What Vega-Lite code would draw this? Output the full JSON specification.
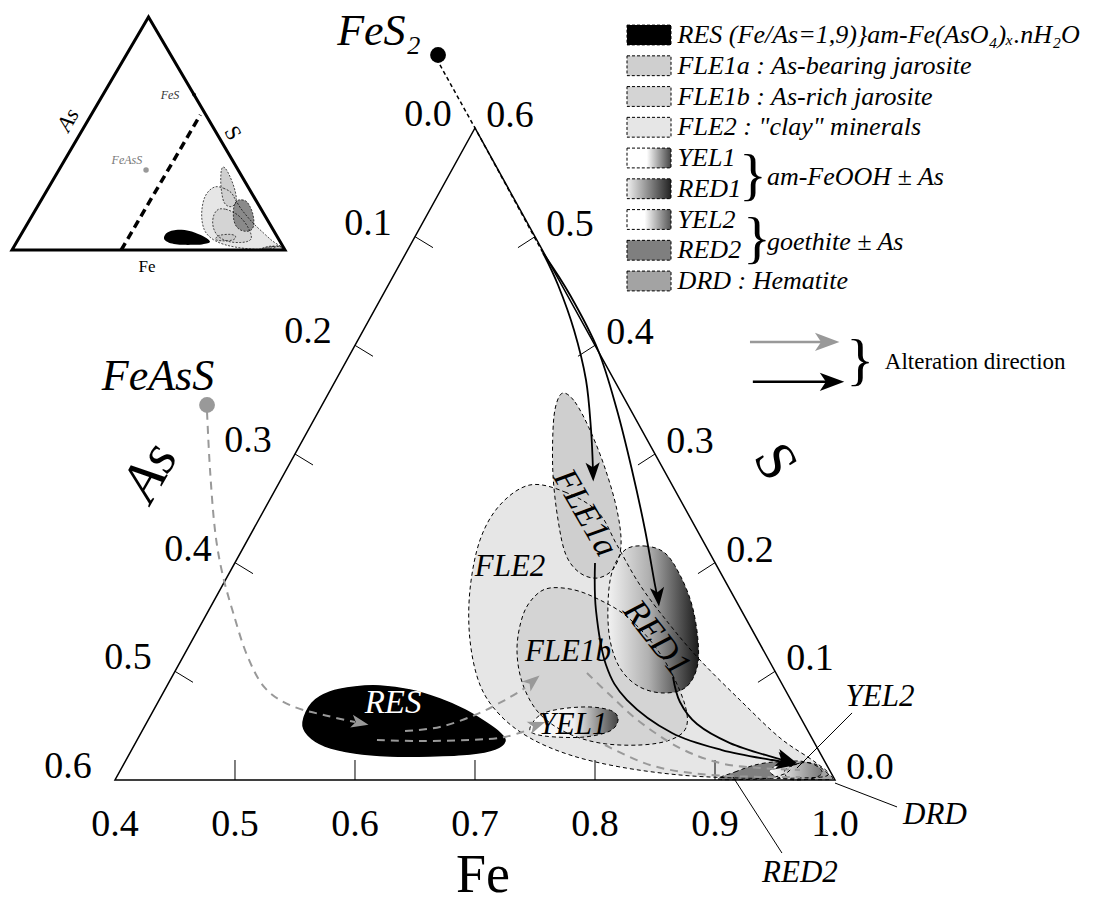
{
"$schema":"https://vega.github.io/schema/vega-lite/v6.json",
"width":1094,"height":904,"autosize":"none","padding":0,"background":"white",
"config":{"view":{"stroke":null},"text":{"font":"Liberation Serif"}},
"datasets":{
"shapes":[
{"s":"FLE2","i":0,"x":0.7458,"y":0.2715},{"s":"FLE2","i":1,"x":0.7750,"y":0.2650},{"s":"FLE2","i":2,"x":0.8025,"y":0.2466},{"s":"FLE2","i":3,"x":0.8183,"y":0.2163},{"s":"FLE2","i":4,"x":0.8375,"y":0.1794},{"s":"FLE2","i":5,"x":0.8625,"y":0.1426},{"s":"FLE2","i":6,"x":0.8875,"y":0.1104},{"s":"FLE2","i":7,"x":0.9208,"y":0.0736},{"s":"FLE2","i":8,"x":0.9542,"y":0.0387},{"s":"FLE2","i":9,"x":0.9833,"y":0.0166},{"s":"FLE2","i":10,"x":0.9942,"y":0.0046},{"s":"FLE2","i":11,"x":0.9708,"y":0.0018},{"s":"FLE2","i":12,"x":0.9208,"y":0.0018},{"s":"FLE2","i":13,"x":0.8708,"y":0.0046},{"s":"FLE2","i":14,"x":0.8208,"y":0.0120},{"s":"FLE2","i":15,"x":0.7792,"y":0.0230},{"s":"FLE2","i":16,"x":0.7458,"y":0.0387},{"s":"FLE2","i":17,"x":0.7208,"y":0.0598},{"s":"FLE2","i":18,"x":0.7042,"y":0.0874},{"s":"FLE2","i":19,"x":0.6958,"y":0.1288},{"s":"FLE2","i":20,"x":0.6958,"y":0.1748},{"s":"FLE2","i":21,"x":0.7042,"y":0.2209},{"s":"FLE2","i":22,"x":0.7208,"y":0.2531},
{"s":"FLE1b","i":0,"x":0.7625,"y":0.1767},{"s":"FLE1b","i":1,"x":0.7833,"y":0.1748},{"s":"FLE1b","i":2,"x":0.8042,"y":0.1656},{"s":"FLE1b","i":3,"x":0.8250,"y":0.1518},{"s":"FLE1b","i":4,"x":0.8458,"y":0.1288},{"s":"FLE1b","i":5,"x":0.8625,"y":0.1012},{"s":"FLE1b","i":6,"x":0.8750,"y":0.0690},{"s":"FLE1b","i":7,"x":0.8758,"y":0.0479},{"s":"FLE1b","i":8,"x":0.8625,"y":0.0368},{"s":"FLE1b","i":9,"x":0.8375,"y":0.0322},{"s":"FLE1b","i":10,"x":0.8042,"y":0.0340},{"s":"FLE1b","i":11,"x":0.7750,"y":0.0442},{"s":"FLE1b","i":12,"x":0.7525,"y":0.0626},{"s":"FLE1b","i":13,"x":0.7392,"y":0.0902},{"s":"FLE1b","i":14,"x":0.7350,"y":0.1215},{"s":"FLE1b","i":15,"x":0.7400,"y":0.1518},{"s":"FLE1b","i":16,"x":0.7500,"y":0.1693},
{"s":"FLE1a","i":0,"x":0.7733,"y":0.3561},{"s":"FLE1a","i":1,"x":0.7833,"y":0.3479},{"s":"FLE1a","i":2,"x":0.7958,"y":0.3221},{"s":"FLE1a","i":3,"x":0.8083,"y":0.2871},{"s":"FLE1a","i":4,"x":0.8183,"y":0.2485},{"s":"FLE1a","i":5,"x":0.8217,"y":0.2163},{"s":"FLE1a","i":6,"x":0.8158,"y":0.1951},{"s":"FLE1a","i":7,"x":0.8025,"y":0.1859},{"s":"FLE1a","i":8,"x":0.7875,"y":0.1905},{"s":"FLE1a","i":9,"x":0.7758,"y":0.2071},{"s":"FLE1a","i":10,"x":0.7692,"y":0.2393},{"s":"FLE1a","i":11,"x":0.7650,"y":0.2807},{"s":"FLE1a","i":12,"x":0.7650,"y":0.3221},{"s":"FLE1a","i":13,"x":0.7675,"y":0.3451},
{"s":"RED1","i":0,"x":0.8250,"y":0.2117},{"s":"RED1","i":1,"x":0.8417,"y":0.2153},{"s":"RED1","i":2,"x":0.8583,"y":0.2089},{"s":"RED1","i":3,"x":0.8708,"y":0.1887},{"s":"RED1","i":4,"x":0.8808,"y":0.1610},{"s":"RED1","i":5,"x":0.8858,"y":0.1288},{"s":"RED1","i":6,"x":0.8850,"y":0.1031},{"s":"RED1","i":7,"x":0.8750,"y":0.0847},{"s":"RED1","i":8,"x":0.8558,"y":0.0801},{"s":"RED1","i":9,"x":0.8358,"y":0.0865},{"s":"RED1","i":10,"x":0.8208,"y":0.1031},{"s":"RED1","i":11,"x":0.8125,"y":0.1288},{"s":"RED1","i":12,"x":0.8108,"y":0.1610},{"s":"RED1","i":13,"x":0.8142,"y":0.1914},
{"s":"YEL1","i":0,"x":0.7458,"y":0.0479},{"s":"YEL1","i":1,"x":0.7542,"y":0.0598},{"s":"YEL1","i":2,"x":0.7708,"y":0.0653},{"s":"YEL1","i":3,"x":0.7958,"y":0.0672},{"s":"YEL1","i":4,"x":0.8142,"y":0.0635},{"s":"YEL1","i":5,"x":0.8192,"y":0.0552},{"s":"YEL1","i":6,"x":0.8125,"y":0.0451},{"s":"YEL1","i":7,"x":0.7917,"y":0.0396},{"s":"YEL1","i":8,"x":0.7667,"y":0.0396},{"s":"YEL1","i":9,"x":0.7500,"y":0.0423},
{"s":"RES","i":0,"x":0.5567,"y":0.0534},{"s":"RES","i":1,"x":0.5642,"y":0.0709},{"s":"RES","i":2,"x":0.5792,"y":0.0810},{"s":"RES","i":3,"x":0.6000,"y":0.0856},{"s":"RES","i":4,"x":0.6208,"y":0.0865},{"s":"RES","i":5,"x":0.6458,"y":0.0828},{"s":"RES","i":6,"x":0.6708,"y":0.0745},{"s":"RES","i":7,"x":0.6917,"y":0.0644},{"s":"RES","i":8,"x":0.7083,"y":0.0534},{"s":"RES","i":9,"x":0.7208,"y":0.0433},{"s":"RES","i":10,"x":0.7250,"y":0.0359},{"s":"RES","i":11,"x":0.7167,"y":0.0285},{"s":"RES","i":12,"x":0.6958,"y":0.0239},{"s":"RES","i":13,"x":0.6625,"y":0.0221},{"s":"RES","i":14,"x":0.6292,"y":0.0221},{"s":"RES","i":15,"x":0.6000,"y":0.0248},{"s":"RES","i":16,"x":0.5750,"y":0.0313},{"s":"RES","i":17,"x":0.5608,"y":0.0414},
{"s":"RED2","i":0,"x":0.9025,"y":0.0009},{"s":"RED2","i":1,"x":0.9167,"y":0.0074},{"s":"RED2","i":2,"x":0.9333,"y":0.0138},{"s":"RED2","i":3,"x":0.9500,"y":0.0166},{"s":"RED2","i":4,"x":0.9625,"y":0.0147},{"s":"RED2","i":5,"x":0.9608,"y":0.0074},{"s":"RED2","i":6,"x":0.9458,"y":0.0018},{"s":"RED2","i":7,"x":0.9250,"y":0.0005},
{"s":"DRD","i":0,"x":0.9583,"y":0.0092},{"s":"DRD","i":1,"x":0.9708,"y":0.0156},{"s":"DRD","i":2,"x":0.9833,"y":0.0147},{"s":"DRD","i":3,"x":0.9925,"y":0.0074},{"s":"DRD","i":4,"x":0.9975,"y":0.0009},{"s":"DRD","i":5,"x":0.9792,"y":0.0005},{"s":"DRD","i":6,"x":0.9625,"y":0.0009},
{"s":"YEL2","i":0,"x":0.9458,"y":0.0074},{"s":"YEL2","i":1,"x":0.9542,"y":0.0147},{"s":"YEL2","i":2,"x":0.9692,"y":0.0175},{"s":"YEL2","i":3,"x":0.9833,"y":0.0138},{"s":"YEL2","i":4,"x":0.9892,"y":0.0064},{"s":"YEL2","i":5,"x":0.9792,"y":0.0009},{"s":"YEL2","i":6,"x":0.9583,"y":0.0009}
],
"frame":[{"i":0,"x":0.7,"y":0},{"i":1,"x":1.0,"y":0},{"i":2,"x":0.7,"y":0.6},{"i":3,"x":0.4,"y":0},{"i":4,"x":0.7,"y":0}],
"ticks":[
{"x":0.5,"y":0,"x2":0.5,"y2":0.0184},{"x":0.6,"y":0,"x2":0.6,"y2":0.0184},{"x":0.7,"y":0,"x2":0.7,"y2":0.0184},{"x":0.8,"y":0,"x2":0.8,"y2":0.0184},{"x":0.9,"y":0,"x2":0.9,"y2":0.0184},
{"x":0.65,"y":0.5,"x2":0.665,"y2":0.4899},{"x":0.6,"y":0.4,"x2":0.615,"y2":0.3899},{"x":0.55,"y":0.3,"x2":0.565,"y2":0.2899},{"x":0.5,"y":0.2,"x2":0.515,"y2":0.1899},{"x":0.45,"y":0.1,"x2":0.465,"y2":0.0899},
{"x":0.95,"y":0.1,"x2":0.9358,"y2":0.0899},{"x":0.9,"y":0.2,"x2":0.8858,"y2":0.1899},{"x":0.85,"y":0.3,"x2":0.8358,"y2":0.2899},{"x":0.8,"y":0.4,"x2":0.7858,"y2":0.3899},{"x":0.75,"y":0.5,"x2":0.7358,"y2":0.4899}
],
"curves":[
{"c":"C1","i":0,"x":0.7567,"y":0.4850},{"c":"C1","i":1,"x":0.7692,"y":0.4555},{"c":"C1","i":2,"x":0.7825,"y":0.4141},{"c":"C1","i":3,"x":0.7925,"y":0.3681},{"c":"C1","i":4,"x":0.7967,"y":0.3221},{"c":"C1","i":5,"x":0.7983,"y":0.2853},
{"c":"C2","i":0,"x":0.7567,"y":0.4850},{"c":"C2","i":1,"x":0.7792,"y":0.4463},{"c":"C2","i":2,"x":0.8025,"y":0.3957},{"c":"C2","i":3,"x":0.8183,"y":0.3405},{"c":"C2","i":4,"x":0.8308,"y":0.2853},{"c":"C2","i":5,"x":0.8417,"y":0.2301},{"c":"C2","i":6,"x":0.8500,"y":0.1794},{"c":"C2","i":7,"x":0.8525,"y":0.1684},
{"c":"C3","i":0,"x":0.8000,"y":0.1997},{"c":"C3","i":1,"x":0.8008,"y":0.1564},{"c":"C3","i":2,"x":0.8092,"y":0.1058},{"c":"C3","i":3,"x":0.8267,"y":0.0736},{"c":"C3","i":4,"x":0.8642,"y":0.0433},{"c":"C3","i":5,"x":0.9058,"y":0.0276},{"c":"C3","i":6,"x":0.9475,"y":0.0184},{"c":"C3","i":7,"x":0.9583,"y":0.0166},
{"c":"C4","i":0,"x":0.8650,"y":0.0948},{"c":"C4","i":1,"x":0.8708,"y":0.0718},{"c":"C4","i":2,"x":0.8850,"y":0.0515},{"c":"C4","i":3,"x":0.9125,"y":0.0340},{"c":"C4","i":4,"x":0.9475,"y":0.0212},{"c":"C4","i":5,"x":0.9583,"y":0.0184},
{"c":"G1","i":0,"x":0.4767,"y":0.3387},{"c":"G1","i":1,"x":0.4792,"y":0.2853},{"c":"G1","i":2,"x":0.4833,"y":0.2301},{"c":"G1","i":3,"x":0.4892,"y":0.1914},{"c":"G1","i":4,"x":0.4983,"y":0.1546},{"c":"G1","i":5,"x":0.5100,"y":0.1150},{"c":"G1","i":6,"x":0.5250,"y":0.0847},{"c":"G1","i":7,"x":0.5475,"y":0.0681},{"c":"G1","i":8,"x":0.5775,"y":0.0589},{"c":"G1","i":9,"x":0.6000,"y":0.0534},
{"c":"G2","i":0,"x":0.6417,"y":0.0451},{"c":"G2","i":1,"x":0.6708,"y":0.0488},{"c":"G2","i":2,"x":0.7000,"y":0.0598},{"c":"G2","i":3,"x":0.7250,"y":0.0736},{"c":"G2","i":4,"x":0.7417,"y":0.0847},
{"c":"G3","i":0,"x":0.6183,"y":0.0368},{"c":"G3","i":1,"x":0.6542,"y":0.0359},{"c":"G3","i":2,"x":0.6958,"y":0.0368},{"c":"G3","i":3,"x":0.7250,"y":0.0396},{"c":"G3","i":4,"x":0.7458,"y":0.0469},
{"c":"G4","i":0,"x":0.7933,"y":0.0985},{"c":"G4","i":1,"x":0.8125,"y":0.0782},{"c":"G4","i":2,"x":0.8375,"y":0.0534},{"c":"G4","i":3,"x":0.8708,"y":0.0294},{"c":"G4","i":4,"x":0.9042,"y":0.0156},{"c":"G4","i":5,"x":0.9375,"y":0.0110},{"c":"G4","i":6,"x":0.9708,"y":0.0092},
{"c":"G5","i":0,"x":0.8083,"y":0.0322},{"c":"G5","i":1,"x":0.8458,"y":0.0138},{"c":"G5","i":2,"x":0.8875,"y":0.0055},{"c":"G5","i":3,"x":0.9375,"y":0.0028},{"c":"G5","i":4,"x":0.9708,"y":0.0028},
{"c":"F","i":0,"x":0.6708,"y":0.6580},{"c":"F","i":1,"x":0.7,"y":0.6},{"c":"F","i":2,"x":0.7567,"y":0.4850}
],
"heads":[
{"k":"black","x":0.7983,"y":0.2834,"h":88},{"k":"black","x":0.8525,"y":0.1684,"h":84},
{"k":"bigblack","x":0.9600,"y":0.0160,"h":12},{"k":"bigblack","x":0.9600,"y":0.0180,"h":16},
{"k":"gray","x":0.6042,"y":0.0525,"h":12},{"k":"gray","x":0.7483,"y":0.0911,"h":-40},{"k":"gray","x":0.7517,"y":0.0506,"h":-20}
],
"dots":[{"m":"FeS2","x":0.6692,"y":0.6672},{"m":"FeAsS","x":0.4767,"y":0.3451}],
"pointers":[{"x":1.0142,"y":0.0617,"x2":0.9683,"y2":0.0110},{"x":1.0517,"y":-0.0248,"x2":1.0,"y2":-0.0028},{"x":0.9558,"y":-0.0672,"x2":0.915,"y2":0.0028}],
"labels":[
{"g":"tick","t":"0.4","x":0.4,"y":-0.0414},{"g":"tick","t":"0.5","x":0.5,"y":-0.0414},{"g":"tick","t":"0.6","x":0.6,"y":-0.0414},{"g":"tick","t":"0.7","x":0.7,"y":-0.0414},{"g":"tick","t":"0.8","x":0.8,"y":-0.0414},{"g":"tick","t":"0.9","x":0.9,"y":-0.0414},{"g":"tick","t":"1.0","x":1.0,"y":-0.0414},
{"g":"tick","t":"0.0","x":0.6608,"y":0.612},{"g":"tick","t":"0.1","x":0.6108,"y":0.512},{"g":"tick","t":"0.2","x":0.5608,"y":0.412},{"g":"tick","t":"0.3","x":0.5108,"y":0.312},{"g":"tick","t":"0.4","x":0.4608,"y":0.212},{"g":"tick","t":"0.5","x":0.4108,"y":0.112},{"g":"tick","t":"0.6","x":0.3608,"y":0.012},
{"g":"tick","t":"0.0","x":1.0292,"y":0.011},{"g":"tick","t":"0.1","x":0.9792,"y":0.111},{"g":"tick","t":"0.2","x":0.9292,"y":0.211},{"g":"tick","t":"0.3","x":0.8792,"y":0.311},{"g":"tick","t":"0.4","x":0.8292,"y":0.411},{"g":"tick","t":"0.5","x":0.7792,"y":0.511},{"g":"tick","t":"0.6","x":0.7292,"y":0.611},
{"g":"shape","t":"FLE2","x":0.7292,"y":0.1960},{"g":"shape","t":"FLE1b","x":0.7775,"y":0.1178},{"g":"shape","t":"YEL1","x":0.7817,"y":0.0506},{"g":"shape","t":"YEL2","x":1.0375,"y":0.0764},{"g":"shape","t":"DRD","x":1.0833,"y":-0.0322},{"g":"shape","t":"RED2","x":0.9708,"y":-0.0856},
{"g":"res","t":"RES","x":0.6317,"y":0.0709},
{"g":"fle1a","t":"FLE1a","x":0.7917,"y":0.2457},
{"g":"red1","t":"RED1","x":0.8517,"y":0.1307},
{"g":"mineral","t":"FeS₂","x":0.62,"y":0.6883},{"g":"mineral","t":"FeAsS","x":0.4358,"y":0.3709},
{"g":"fe","t":"Fe","x":0.7067,"y":-0.0883},
{"g":"as","t":"As","x":0.4292,"y":0.2834},
{"g":"s","t":"S","x":0.95,"y":0.2926}
],
"iframe":[{"k":"tri","i":0,"x":0.5,"y":0},{"k":"tri","i":1,"x":1,"y":0},{"k":"tri","i":2,"x":0.5,"y":1},{"k":"tri","i":3,"x":0,"y":0},{"k":"tri","i":4,"x":0.5,"y":0},{"k":"dash","i":0,"x":0.4,"y":0},{"k":"dash","i":1,"x":0.69,"y":0.58}],
"ilabels":[{"g":"fe","t":"Fe","x":0.4945,"y":-0.073},{"g":"as","t":"As","x":0.205,"y":0.558},{"g":"s","t":"S","x":0.8095,"y":0.502},{"g":"small","t":"FeS","x":0.5788,"y":0.665},{"g":"smallgray","t":"FeAsS","x":0.421,"y":0.386}],
"idots":[{"m":"FeS2","x":0.667,"y":0.667},{"m":"FeAsS","x":0.491,"y":0.343}],
"legend":[
{"row":0,"k":"RES","t":"RES (Fe/As=1,9)}am-Fe(AsO₄)ₓ.nH₂O"},
{"row":1,"k":"FLE1a","t":"FLE1a : As-bearing jarosite"},
{"row":2,"k":"FLE1b","t":"FLE1b : As-rich jarosite"},
{"row":3,"k":"FLE2","t":"FLE2 : \"clay\" minerals"},
{"row":4,"k":"YEL1","t":"YEL1"},
{"row":5,"k":"RED1","t":"RED1"},
{"row":6,"k":"YEL2","t":"YEL2"},
{"row":7,"k":"RED2","t":"RED2"},
{"row":8,"k":"DRD","t":"DRD : Hematite"}
]
},
"resolve":{"scale":{"x":"independent","y":"independent","fill":"independent"}},
"layer":[
{
"encoding":{
"x":{"field":"x","type":"quantitative","scale":{"domain":[0.30417,1.21583],"range":[0,1094],"nice":false,"zero":false},"axis":null},
"y":{"field":"y","type":"quantitative","scale":{"domain":[-0.11411,0.71779],"range":[904,0],"nice":false,"zero":false},"axis":null}
},
"layer":[
{"data":{"name":"shapes"},"transform":[{"filter":"datum.s=='FLE2'"}],"mark":{"type":"line","interpolate":"cardinal-closed","fill":"#e6e6e6","strokeWidth":0},"encoding":{"order":{"field":"i","type":"quantitative"}}},
{"data":{"name":"shapes"},"transform":[{"filter":"datum.s=='FLE1b'"}],"mark":{"type":"line","interpolate":"cardinal-closed","fill":"#d4d4d4","strokeWidth":0},"encoding":{"order":{"field":"i","type":"quantitative"}}},
{"data":{"name":"shapes"},"transform":[{"filter":"datum.s=='FLE1a'"}],"mark":{"type":"line","interpolate":"cardinal-closed","fill":"#cfcfcf","strokeWidth":0},"encoding":{"order":{"field":"i","type":"quantitative"}}},
{"data":{"name":"shapes"},"transform":[{"filter":"datum.s=='RED1'"}],"mark":{"type":"line","interpolate":"cardinal-closed","fill":{"gradient":"linear","x1":0,"y1":0,"x2":1,"y2":0,"stops":[{"offset":0,"color":"#f2f2f2"},{"offset":0.45,"color":"#b0b0b0"},{"offset":1,"color":"#1a1a1a"}]},"strokeWidth":0},"encoding":{"order":{"field":"i","type":"quantitative"}}},
{"data":{"name":"shapes"},"transform":[{"filter":"datum.s=='YEL1'"}],"mark":{"type":"line","interpolate":"cardinal-closed","fill":{"gradient":"linear","x1":0,"y1":0,"x2":1,"y2":0,"stops":[{"offset":0,"color":"#ffffff"},{"offset":0.5,"color":"#f0f0f0"},{"offset":1,"color":"#444444"}]},"strokeWidth":0},"encoding":{"order":{"field":"i","type":"quantitative"}}},
{"data":{"name":"shapes"},"transform":[{"filter":"datum.s=='RES'"}],"mark":{"type":"line","interpolate":"cardinal-closed","fill":"#000000","stroke":"#000000","strokeWidth":1.5},"encoding":{"order":{"field":"i","type":"quantitative"}}},
{"data":{"name":"shapes"},"transform":[{"filter":"datum.s=='RED2'"}],"mark":{"type":"line","interpolate":"cardinal-closed","fill":"#7f7f7f","strokeWidth":0},"encoding":{"order":{"field":"i","type":"quantitative"}}},
{"data":{"name":"shapes"},"transform":[{"filter":"datum.s=='DRD'"}],"mark":{"type":"line","interpolate":"cardinal-closed","fill":"#a3a3a3","strokeWidth":0},"encoding":{"order":{"field":"i","type":"quantitative"}}},
{"data":{"name":"shapes"},"transform":[{"filter":"datum.s=='YEL2'"}],"mark":{"type":"line","interpolate":"cardinal-closed","fill":{"gradient":"linear","x1":0,"y1":0,"x2":1,"y2":0,"stops":[{"offset":0,"color":"#ffffff"},{"offset":1,"color":"#777777"}]},"strokeWidth":0},"encoding":{"order":{"field":"i","type":"quantitative"}}},
{"data":{"name":"shapes"},"transform":[{"filter":"datum.s!='RES'"}],"mark":{"type":"line","interpolate":"cardinal-closed","stroke":"#000000","strokeWidth":1,"strokeDash":[4,3]},"encoding":{"detail":{"field":"s"},"order":{"field":"i","type":"quantitative"}}},
{"data":{"name":"frame"},"mark":{"type":"line","stroke":"#000000","strokeWidth":1.5},"encoding":{"order":{"field":"i","type":"quantitative"}}},
{"data":{"name":"ticks"},"mark":{"type":"rule","stroke":"#000000","strokeWidth":1},"encoding":{"x2":{"field":"x2"},"y2":{"field":"y2"}}},
{"data":{"name":"curves"},"transform":[{"filter":{"field":"c","oneOf":["G1","G2","G3","G4","G5"]}}],"mark":{"type":"line","interpolate":"cardinal","stroke":"#999999","strokeWidth":2,"strokeDash":[8,6]},"encoding":{"detail":{"field":"c"},"order":{"field":"i","type":"quantitative"}}},
{"data":{"name":"curves"},"transform":[{"filter":{"field":"c","oneOf":["C1","C2","C3","C4"]}}],"mark":{"type":"line","interpolate":"cardinal","stroke":"#000000","strokeWidth":1.8},"encoding":{"detail":{"field":"c"},"order":{"field":"i","type":"quantitative"}}},
{"data":{"name":"curves"},"transform":[{"filter":"datum.c=='F'"}],"mark":{"type":"line","stroke":"#000000","strokeWidth":1.5,"strokeDash":[4,3]},"encoding":{"order":{"field":"i","type":"quantitative"}}},
{"data":{"name":"heads"},"transform":[{"filter":"datum.k=='black'"}],"mark":{"type":"point","shape":"M1,0L-1,-0.75L-0.5,0L-1,0.75Z","filled":true,"fill":"#000000","strokeWidth":0,"opacity":1,"size":360},"encoding":{"angle":{"field":"h","type":"quantitative","scale":null}}},
{"data":{"name":"heads"},"transform":[{"filter":"datum.k=='bigblack'"}],"mark":{"type":"point","shape":"M1,0L-1,-0.85L-0.5,0L-1,0.85Z","filled":true,"fill":"#000000","strokeWidth":0,"opacity":1,"size":440},"encoding":{"angle":{"field":"h","type":"quantitative","scale":null}}},
{"data":{"name":"heads"},"transform":[{"filter":"datum.k=='gray'"}],"mark":{"type":"point","shape":"M1,0L-1,-0.75L-0.5,0L-1,0.75Z","filled":true,"fill":"#999999","strokeWidth":0,"opacity":1,"size":300},"encoding":{"angle":{"field":"h","type":"quantitative","scale":null}}},
{"data":{"name":"dots"},"mark":{"type":"point","shape":"circle","filled":true,"opacity":1,"size":250,"strokeWidth":0},"encoding":{"fill":{"condition":{"test":"datum.m=='FeS2'","value":"#000000"},"value":"#999999"}}},
{"data":{"name":"pointers"},"mark":{"type":"rule","stroke":"#000000","strokeWidth":1},"encoding":{"x2":{"field":"x2"},"y2":{"field":"y2"}}},
{"data":{"name":"labels"},"transform":[{"filter":"datum.g=='tick'"}],"mark":{"type":"text","fontSize":38,"align":"center","baseline":"middle","fill":"#000000"},"encoding":{"text":{"field":"t"}}},
{"data":{"name":"labels"},"transform":[{"filter":"datum.g=='shape'"}],"mark":{"type":"text","fontSize":31,"fontStyle":"italic","align":"center","baseline":"middle","fill":"#000000"},"encoding":{"text":{"field":"t"}}},
{"data":{"name":"labels"},"transform":[{"filter":"datum.g=='res'"}],"mark":{"type":"text","fontSize":33,"fontStyle":"italic","align":"center","baseline":"middle","fill":"#ffffff"},"encoding":{"text":{"field":"t"}}},
{"data":{"name":"labels"},"transform":[{"filter":"datum.g=='fle1a'"}],"mark":{"type":"text","fontSize":34,"fontStyle":"italic","align":"center","baseline":"middle","angle":60,"fill":"#000000"},"encoding":{"text":{"field":"t"}}},
{"data":{"name":"labels"},"transform":[{"filter":"datum.g=='red1'"}],"mark":{"type":"text","fontSize":35,"fontStyle":"italic","align":"center","baseline":"middle","angle":52,"fill":"#000000"},"encoding":{"text":{"field":"t"}}},
{"data":{"name":"labels"},"transform":[{"filter":"datum.g=='mineral'"}],"mark":{"type":"text","fontSize":44,"fontStyle":"italic","align":"center","baseline":"middle","fill":"#000000"},"encoding":{"text":{"field":"t"}}},
{"data":{"name":"labels"},"transform":[{"filter":"datum.g=='fe'"}],"mark":{"type":"text","fontSize":54,"align":"center","baseline":"middle","fill":"#000000"},"encoding":{"text":{"field":"t"}}},
{"data":{"name":"labels"},"transform":[{"filter":"datum.g=='as'"}],"mark":{"type":"text","fontSize":56,"fontStyle":"italic","align":"center","baseline":"middle","angle":-60,"fill":"#000000"},"encoding":{"text":{"field":"t"}}},
{"data":{"name":"labels"},"transform":[{"filter":"datum.g=='s'"}],"mark":{"type":"text","fontSize":56,"align":"center","baseline":"middle","angle":60,"fill":"#000000"},"encoding":{"text":{"field":"t"}}}
]
},
{
"encoding":{
"x":{"field":"x","type":"quantitative","scale":{"domain":[0,1],"range":[12,285],"nice":false,"zero":false},"axis":null},
"y":{"field":"y","type":"quantitative","scale":{"domain":[0,1],"range":[250,17],"nice":false,"zero":false},"axis":null}
},
"layer":[
{"data":{"name":"shapes"},"mark":{"type":"line","interpolate":"cardinal-closed","strokeWidth":0},"encoding":{"detail":{"field":"s"},"order":{"field":"i","type":"quantitative"},"fill":{"field":"s","type":"nominal","legend":null,"scale":{"domain":["FLE2","FLE1b","FLE1a","RED1","YEL1","RES","RED2","DRD","YEL2"],"range":["#e6e6e6","#d4d4d4","#cfcfcf","#8a8a8a","#c8c8c8","#000000","#7f7f7f","#a3a3a3","#cccccc"]}}}},
{"data":{"name":"shapes"},"transform":[{"filter":"datum.s!='RES'"}],"mark":{"type":"line","interpolate":"cardinal-closed","stroke":"#000000","strokeWidth":0.7,"strokeDash":[2,1.5]},"encoding":{"detail":{"field":"s"},"order":{"field":"i","type":"quantitative"}}},
{"data":{"name":"iframe"},"transform":[{"filter":"datum.k=='tri'"}],"mark":{"type":"line","stroke":"#000000","strokeWidth":3},"encoding":{"order":{"field":"i","type":"quantitative"}}},
{"data":{"name":"iframe"},"transform":[{"filter":"datum.k=='dash'"}],"mark":{"type":"line","stroke":"#000000","strokeWidth":3.5,"strokeDash":[8,5]},"encoding":{"order":{"field":"i","type":"quantitative"}}},
{"data":{"name":"idots"},"mark":{"type":"point","shape":"circle","filled":true,"opacity":1,"strokeWidth":0},"encoding":{"size":{"condition":{"test":"datum.m=='FeS2'","value":14},"value":30},"fill":{"condition":{"test":"datum.m=='FeS2'","value":"#000000"},"value":"#999999"}}},
{"data":{"name":"ilabels"},"transform":[{"filter":"datum.g=='fe'"}],"mark":{"type":"text","fontSize":17,"align":"center","baseline":"middle","fill":"#000000"},"encoding":{"text":{"field":"t"}}},
{"data":{"name":"ilabels"},"transform":[{"filter":"datum.g=='as'"}],"mark":{"type":"text","fontSize":22,"fontStyle":"italic","align":"center","baseline":"middle","angle":-60,"fill":"#000000"},"encoding":{"text":{"field":"t"}}},
{"data":{"name":"ilabels"},"transform":[{"filter":"datum.g=='s'"}],"mark":{"type":"text","fontSize":22,"align":"center","baseline":"middle","angle":60,"fill":"#000000"},"encoding":{"text":{"field":"t"}}},
{"data":{"name":"ilabels"},"transform":[{"filter":"datum.g=='small'"}],"mark":{"type":"text","fontSize":12,"fontStyle":"italic","align":"center","baseline":"middle","fill":"#333333"},"encoding":{"text":{"field":"t"}}},
{"data":{"name":"ilabels"},"transform":[{"filter":"datum.g=='smallgray'"}],"mark":{"type":"text","fontSize":12,"fontStyle":"italic","align":"center","baseline":"middle","fill":"#777777"},"encoding":{"text":{"field":"t"}}}
]
},
{
"data":{"name":"legend"},
"encoding":{
"y":{"field":"row","type":"quantitative","scale":{"domain":[0,8],"range":[35,281],"nice":false,"zero":false},"axis":null}
},
"layer":[
{"transform":[{"filter":{"field":"k","oneOf":["RES","FLE1a","FLE1b","FLE2","RED2","DRD"]}}],"mark":{"type":"point","shape":"M-1,-0.45L1,-0.45L1,0.45L-1,0.45Z","size":1936,"opacity":1,"stroke":"#000000","strokeWidth":1,"strokeDash":[3,2]},"encoding":{"x":{"datum":0.5,"type":"quantitative","scale":{"domain":[0,10],"range":[627,1067],"nice":false,"zero":false},"axis":null},"fill":{"field":"k","type":"nominal","legend":null,"scale":{"domain":["RES","FLE1a","FLE1b","FLE2","RED2","DRD"],"range":["#000000","#cfcfcf","#d4d4d4","#e6e6e6","#7f7f7f","#a3a3a3"]}}}},
{"transform":[{"filter":"datum.k=='YEL1'"}],"mark":{"type":"point","shape":"M-1,-0.45L1,-0.45L1,0.45L-1,0.45Z","size":1936,"opacity":1,"stroke":"#000000","strokeWidth":1,"strokeDash":[3,2],"fill":{"gradient":"linear","x1":0,"y1":0,"x2":1,"y2":0,"stops":[{"offset":0,"color":"#ffffff"},{"offset":0.45,"color":"#ffffff"},{"offset":1,"color":"#444444"}]}},"encoding":{"x":{"datum":0.5,"type":"quantitative","scale":{"domain":[0,10],"range":[627,1067],"nice":false,"zero":false},"axis":null}}},
{"transform":[{"filter":"datum.k=='RED1'"}],"mark":{"type":"point","shape":"M-1,-0.45L1,-0.45L1,0.45L-1,0.45Z","size":1936,"opacity":1,"stroke":"#000000","strokeWidth":1,"strokeDash":[3,2],"fill":{"gradient":"linear","x1":0,"y1":0,"x2":1,"y2":0,"stops":[{"offset":0,"color":"#f0f0f0"},{"offset":1,"color":"#222222"}]}},"encoding":{"x":{"datum":0.5,"type":"quantitative","scale":{"domain":[0,10],"range":[627,1067],"nice":false,"zero":false},"axis":null}}},
{"transform":[{"filter":"datum.k=='YEL2'"}],"mark":{"type":"point","shape":"M-1,-0.45L1,-0.45L1,0.45L-1,0.45Z","size":1936,"opacity":1,"stroke":"#000000","strokeWidth":1,"strokeDash":[3,2],"fill":{"gradient":"linear","x1":0,"y1":0,"x2":1,"y2":0,"stops":[{"offset":0,"color":"#ffffff"},{"offset":0.4,"color":"#ffffff"},{"offset":1,"color":"#555555"}]}},"encoding":{"x":{"datum":0.5,"type":"quantitative","scale":{"domain":[0,10],"range":[627,1067],"nice":false,"zero":false},"axis":null}}},
{"mark":{"type":"text","fontSize":26,"fontStyle":"italic","align":"left","baseline":"middle","fill":"#000000"},"encoding":{"x":{"datum":1.15,"type":"quantitative","scale":{"domain":[0,10],"range":[627,1067],"nice":false,"zero":false},"axis":null},"text":{"field":"t"}}},
{"data":{"values":[{"t":"}","bx":2.86,"by":4.62},{"t":"}","bx":2.95,"by":6.67},{"t":"}","bx":5.3,"by":10.63}]},"mark":{"type":"text","fontSize":58,"align":"center","baseline":"middle","fill":"#000000"},"encoding":{"x":{"field":"bx","type":"quantitative","scale":{"domain":[0,10],"range":[627,1067],"nice":false,"zero":false},"axis":null},"y":{"field":"by","type":"quantitative","scale":{"domain":[0,8],"range":[35,281],"nice":false,"zero":false},"axis":null},"text":{"field":"t"}}},
{"data":{"values":[{"t":"am-FeOOH ± As","bx":3.18,"by":4.62},{"t":"goethite ± As","bx":3.18,"by":6.72}]},"mark":{"type":"text","fontSize":26,"fontStyle":"italic","align":"left","baseline":"middle","fill":"#000000"},"encoding":{"x":{"field":"bx","type":"quantitative","scale":{"domain":[0,10],"range":[627,1067],"nice":false,"zero":false},"axis":null},"y":{"field":"by","type":"quantitative","scale":{"domain":[0,8],"range":[35,281],"nice":false,"zero":false},"axis":null},"text":{"field":"t"}}},
{"data":{"values":[{"t":"Alteration direction","bx":5.86,"by":10.63}]},"mark":{"type":"text","fontSize":23,"align":"left","baseline":"middle","fill":"#000000"},"encoding":{"x":{"field":"bx","type":"quantitative","scale":{"domain":[0,10],"range":[627,1067],"nice":false,"zero":false},"axis":null},"y":{"field":"by","type":"quantitative","scale":{"domain":[0,8],"range":[35,281],"nice":false,"zero":false},"axis":null},"text":{"field":"t"}}},
{"data":{"values":[{"k":"gray","bx":2.795,"bx2":4.5,"by":9.98},{"k":"black","bx":2.86,"bx2":4.55,"by":11.28}]},"mark":{"type":"rule","strokeWidth":2.5},"encoding":{"x":{"field":"bx","type":"quantitative","scale":{"domain":[0,10],"range":[627,1067],"nice":false,"zero":false},"axis":null},"x2":{"field":"bx2"},"y":{"field":"by","type":"quantitative","scale":{"domain":[0,8],"range":[35,281],"nice":false,"zero":false},"axis":null},"stroke":{"condition":{"test":"datum.k=='gray'","value":"#999999"},"value":"#000000"}}},
{"data":{"values":[{"k":"gray","bx":4.55,"by":9.98},{"k":"black","bx":4.66,"by":11.28}]},"mark":{"type":"point","shape":"M1,0L-1,-0.75L-0.5,0L-1,0.75Z","filled":true,"opacity":1,"strokeWidth":0,"size":600},"encoding":{"x":{"field":"bx","type":"quantitative","scale":{"domain":[0,10],"range":[627,1067],"nice":false,"zero":false},"axis":null},"y":{"field":"by","type":"quantitative","scale":{"domain":[0,8],"range":[35,281],"nice":false,"zero":false},"axis":null},"fill":{"condition":{"test":"datum.k=='gray'","value":"#999999"},"value":"#000000"}}}
]
}
]
}
